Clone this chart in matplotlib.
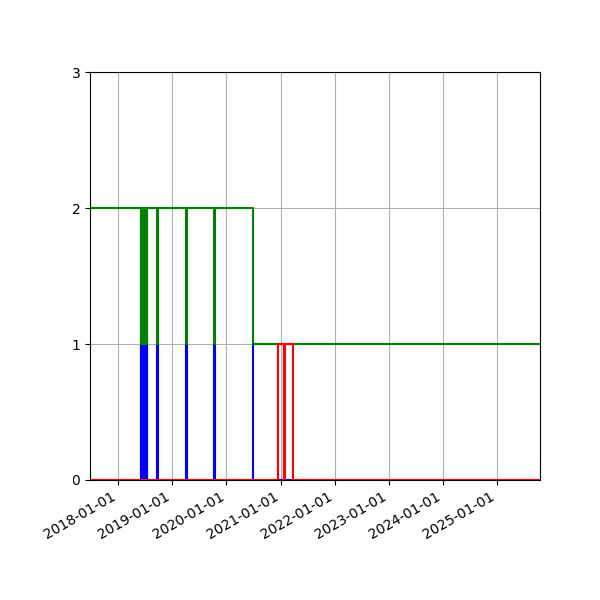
import matplotlib
matplotlib.use("Agg")
import matplotlib.pyplot as plt
import matplotlib.dates as mdates
import numpy as np

# DATA:
START = "2017-06-24"
END = "2025-10-17"

# short dips (green 2 -> 1, blue 0 -> 1)
pulse_start = ["2018-06-02", "2018-06-07", "2018-06-18", "2018-06-23", "2018-06-28",
               "2018-07-03", "2018-07-08", "2018-07-13", "2018-09-19", "2019-04-04",
               "2019-10-12"]
pulse_end = ["2018-06-05", "2018-06-10", "2018-06-21", "2018-06-26", "2018-07-01",
             "2018-07-06", "2018-07-11", "2018-07-15", "2018-09-25", "2019-04-09",
             "2019-10-16"]
drop_date = "2020-06-25"      # green stays at 1 from here

blue_tail_end = "2020-12-12"

red_dates = [START, "2020-12-12", "2021-01-20", "2021-01-28", "2021-03-22", END]
red_vals = [0, 1, 0, 1, 0, 0]


def d(s):
    return np.datetime64(s)


def build_steps(base, pulse_val, after_val, tail_end=None):
    xs = [d(START)]
    ys = [base]
    for a, b in zip(pulse_start, pulse_end):
        xs += [d(a), d(b)]
        ys += [pulse_val, base]
    xs.append(d(drop_date))
    ys.append(after_val)
    if tail_end is not None:
        xs.append(d(tail_end))
        ys.append(base if base == 0 else after_val)
    xs.append(d(END))
    ys.append(ys[-1])
    return np.array(xs), np.array(ys)


blue_x, blue_y = build_steps(0, 1, 1, blue_tail_end)
green_x, green_y = build_steps(2, 1, 1)

fig, ax = plt.subplots(figsize=(6, 6), dpi=100)
ax.plot(blue_x, blue_y, color="blue", drawstyle="steps-post")
ax.plot(green_x, green_y, color="green", drawstyle="steps-post")
ax.plot(np.array([d(s) for s in red_dates]), red_vals, color="red", drawstyle="steps-post")

ax.set_xlim(d(START), d(END))
ax.set_ylim(0, 3)
ax.set_yticks([0, 1, 2, 3])
ax.xaxis.set_major_locator(mdates.YearLocator())
ax.xaxis.set_major_formatter(mdates.DateFormatter("%Y-%m-%d"))
ax.grid(True)
fig.autofmt_xdate()
fig.subplots_adjust(left=0.15, right=0.9, top=0.88, bottom=0.2)
fig.savefig("out.png")
